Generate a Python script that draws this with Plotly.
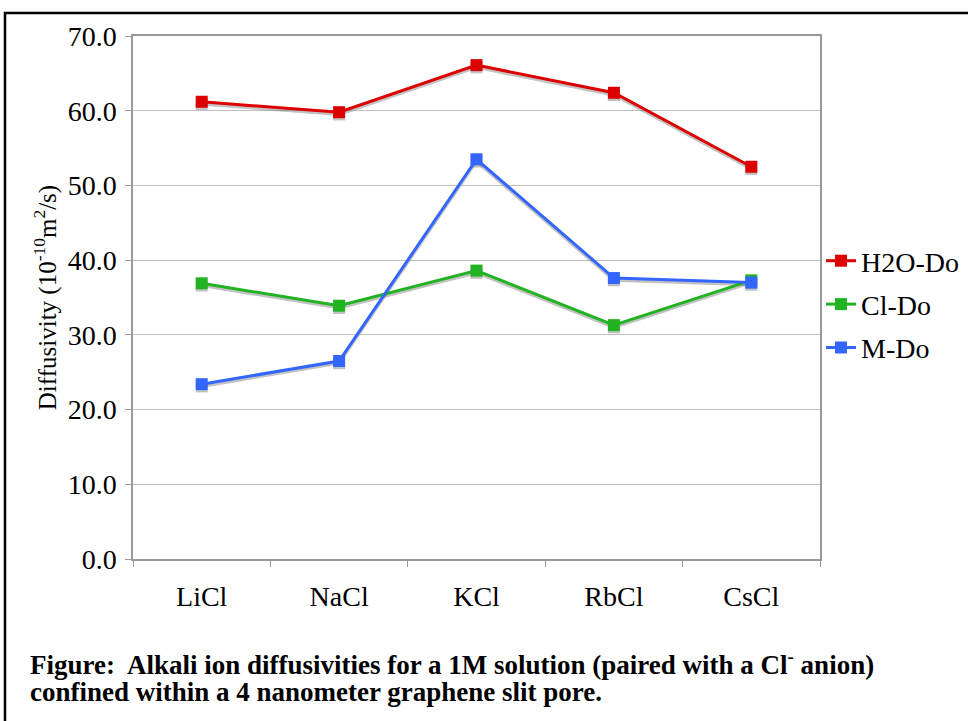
import plotly.graph_objects as go

categories = ["LiCl", "NaCl", "KCl", "RbCl", "CsCl"]
h2o_do = [61.2, 59.8, 66.1, 62.4, 52.5]
cl_do = [36.9, 33.9, 38.6, 31.3, 37.3]
m_do = [23.4, 26.5, 53.5, 37.6, 37.0]
y_ticks = [0, 10, 20, 30, 40, 50, 60, 70]

series = [
    ("H2O-Do", h2o_do, "#dd0000"),
    ("Cl-Do", cl_do, "#22b322"),
    ("M-Do", m_do, "#3366ff"),
]

W, H = 968, 721
ml, mt = 133, 36
pr, pb = 820, 559
mr, mb = W - pr, H - pb
pw, ph = pr - ml, pb - mt


def px_x(x):
    return (x - ml) / pw


def px_y(y):
    return (pb - y) / ph


fig = go.Figure()
shadow_off = 0.3
for name, vals, col in series:
    fig.add_trace(go.Scatter(
        x=categories, y=[v - shadow_off for v in vals], mode="lines+markers",
        line=dict(color="rgba(120,120,120,0.45)", width=3),
        marker=dict(symbol="square", size=12, color="rgba(120,120,120,0.45)"),
        showlegend=False, hoverinfo="skip"))
for name, vals, col in series:
    fig.add_trace(go.Scatter(
        x=categories, y=vals, mode="lines+markers", name=name, legendgroup=name,
        line=dict(color=col, width=3),
        marker=dict(symbol="square", size=12, color=col)))

font_serif = "Liberation Serif, Times New Roman, serif"

fig.update_layout(
    width=W, height=H,
    margin=dict(l=ml, r=mr, t=mt, b=mb, autoexpand=False),
    paper_bgcolor="white", plot_bgcolor="white",
    font=dict(family=font_serif, size=28, color="black"),
    showlegend=True,
    legend=dict(xref="container", yref="container",
                x=821 / W, y=1 - 236 / H, xanchor="left", yanchor="top",
                font=dict(family=font_serif, size=28, color="black"),
                tracegroupgap=4, itemwidth=30, bgcolor="rgba(0,0,0,0)"),
    xaxis=dict(
        type="category", range=[-0.5, 4.5], tickson="boundaries",
        ticks="outside", ticklen=6, tickcolor="#999999",
        showline=True, linecolor="#999999", linewidth=1.5, mirror=True,
        showgrid=False, tickfont=dict(family=font_serif, size=28),
        ticklabelstandoff=12,
    ),
    yaxis=dict(
        range=[0, 70], tickvals=y_ticks, ticktext=[f"{v:.1f}" for v in y_ticks],
        ticks="outside", ticklen=6, tickcolor="#999999",
        showline=True, linecolor="#999999", linewidth=1.5, mirror=True,
        showgrid=True, gridcolor="#c0c0c0", gridwidth=1.2,
        zeroline=False, tickfont=dict(family=font_serif, size=28),
        ticklabelstandoff=3,
        title=dict(text="Diffusivity (10<sup>-10</sup>m<sup>2</sup>/s)",
                   font=dict(family=font_serif, size=25), standoff=4),
    ),
)

# outer black frame (continues past the right and bottom edges)
fig.add_shape(type="rect", xref="paper", yref="paper",
              x0=px_x(5), x1=px_x(990), y0=px_y(740), y1=px_y(13),
              line=dict(color="black", width=2.5), fillcolor="rgba(0,0,0,0)", layer="below")

caption1 = "Figure:  Alkali ion diffusivities for a 1M solution (paired with a Cl<sup>-</sup> anion)"
caption2 = "confined within a 4 nanometer graphene slit pore."
for txt, yc in [(caption1, 663), (caption2, 692)]:
    fig.add_annotation(xref="paper", yref="paper", x=px_x(28), y=px_y(yc),
                       xanchor="left", yanchor="middle", align="left", showarrow=False,
                       text="<b>" + txt + "</b>",
                       font=dict(family=font_serif, size=27, color="black"))

fig.write_html("out.html", config={"displayModeBar": False},
               post_script="document.body.style.margin='0px';document.body.style.overflow='hidden';")
